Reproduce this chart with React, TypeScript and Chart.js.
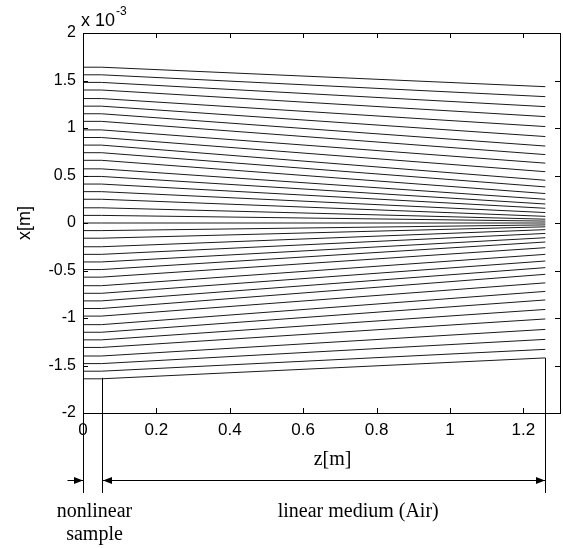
import React, { useEffect, useRef } from "react";
import { Chart, registerables } from "chart.js";

Chart.register(...registerables);

// z positions (m) of the ray vertices: entry face, exit face of the sample, end of the air path
const RAY_Z = [0, 0.05, 1.26];

// transverse ray positions, in units of 1e-3 m, at the sample (start) and at z = 1.26 m (end)
const RAY_START = [
  1.64, 1.56, 1.48, 1.4, 1.31, 1.23, 1.15, 1.07, 0.98, 0.9, 0.82, 0.74, 0.66, 0.57, 0.49, 0.41, 0.33, 0.25, 0.16,
  0.08, 0, -0.08, -0.16, -0.25, -0.33, -0.41, -0.49, -0.57, -0.66, -0.74, -0.82, -0.9, -0.98, -1.07, -1.15, -1.23,
  -1.31, -1.4, -1.48, -1.56, -1.64,
];
const RAY_END = [
  1.435, 1.33, 1.225, 1.12, 1.015, 0.91, 0.81, 0.72, 0.63, 0.54, 0.45, 0.38, 0.31, 0.25, 0.2, 0.155, 0.11, 0.07,
  0.04, 0.02, 0, -0.02, -0.04, -0.07, -0.11, -0.155, -0.2, -0.26, -0.33, -0.4, -0.47, -0.54, -0.63, -0.72, -0.81,
  -0.91, -1.01, -1.12, -1.225, -1.33, -1.42,
];

const X_MIN = 0;
const X_MAX = 1.3;
const X_STEP = 0.2;
const Y_MIN = -2e-3;
const Y_MAX = 2e-3;
const Y_STEP = 0.5e-3;

const SAMPLE_END_Z = 0.051;
const SAMPLE_TOP = -1.63e-3;
const AIR_END_Z = 1.26;
const AIR_END_TOP = -1.42e-3;

const SANS = "'Liberation Sans', Arial, sans-serif";
const SERIF = "'Liberation Serif', 'Times New Roman', serif";

const annotations = {
  id: "annotations",
  afterDraw(chart: any) {
    const { ctx, chartArea: a, scales } = chart;
    const xs = scales.x;
    const ys = scales.y;
    ctx.save();
    ctx.strokeStyle = "#000";
    ctx.fillStyle = "#000";
    ctx.lineWidth = 1;
    // box
    ctx.strokeRect(Math.round(a.left) + 0.5, Math.round(a.top) + 0.5, Math.round(a.right - a.left), Math.round(a.bottom - a.top));
    // inward ticks
    const tl = 5;
    ctx.beginPath();
    xs.ticks.forEach((t: any) => {
      const p = Math.round(xs.getPixelForValue(t.value)) + 0.5;
      ctx.moveTo(p, a.bottom);
      ctx.lineTo(p, a.bottom - tl);
      ctx.moveTo(p, a.top);
      ctx.lineTo(p, a.top + tl);
    });
    ys.ticks.forEach((t: any) => {
      const p = Math.round(ys.getPixelForValue(t.value)) + 0.5;
      ctx.moveTo(a.left, p);
      ctx.lineTo(a.left + tl, p);
      ctx.moveTo(a.right, p);
      ctx.lineTo(a.right - tl, p);
    });
    ctx.stroke();

    // exponent label
    ctx.textBaseline = "middle";
    ctx.textAlign = "left";
    ctx.font = `18px ${SANS}`;
    ctx.fillText("x 10", a.left - 2, a.top - 12);
    const w = ctx.measureText("x 10").width;
    ctx.font = `12px ${SANS}`;
    ctx.fillText("-3", a.left - 2 + w + 1, a.top - 21);

    // y title
    ctx.save();
    ctx.translate(25, ys.getPixelForValue(0));
    ctx.rotate(-Math.PI / 2);
    ctx.textAlign = "center";
    ctx.font = `18px ${SANS}`;
    ctx.fillText("x[m]", 0, 0);
    ctx.restore();

    // x title
    ctx.textAlign = "center";
    ctx.font = `20px ${SERIF}`;
    ctx.fillText("z[m]", xs.getPixelForValue(0.68), a.bottom + 47);

    // sample / air boundaries
    const x0 = Math.round(xs.getPixelForValue(0)) + 0.5;
    const x1 = Math.round(xs.getPixelForValue(SAMPLE_END_Z)) + 0.5;
    const x2 = Math.round(xs.getPixelForValue(AIR_END_Z)) + 0.5;
    const yb = a.bottom + 80;
    ctx.beginPath();
    ctx.moveTo(x0, a.bottom);
    ctx.lineTo(x0, yb);
    ctx.moveTo(x1, ys.getPixelForValue(SAMPLE_TOP));
    ctx.lineTo(x1, yb);
    ctx.moveTo(x2, ys.getPixelForValue(AIR_END_TOP));
    ctx.lineTo(x2, yb);
    ctx.stroke();

    // arrows
    const ya = Math.round(a.bottom + 67) + 0.5;
    ctx.beginPath();
    ctx.moveTo(x0 - 16, ya);
    ctx.lineTo(x0, ya);
    ctx.moveTo(x1, ya);
    ctx.lineTo(x2, ya);
    ctx.stroke();
    const head = (tip: number, dir: number) => {
      ctx.beginPath();
      ctx.moveTo(tip, ya);
      ctx.lineTo(tip - dir * 9, ya - 3.5);
      ctx.lineTo(tip - dir * 9, ya + 3.5);
      ctx.closePath();
      ctx.fill();
    };
    head(x0 - 0.5, 1);
    head(x1 + 0.5, -1);
    head(x2 - 0.5, 1);

    // labels
    ctx.font = `20px ${SERIF}`;
    ctx.textAlign = "center";
    ctx.fillText("nonlinear", x0 + 11, a.bottom + 99);
    ctx.fillText("sample", x0 + 11, a.bottom + 122);
    ctx.fillText("linear medium (Air)", xs.getPixelForValue(0.75), a.bottom + 99);
    ctx.restore();
  },
};

export default function App() {
  const ref = useRef<HTMLCanvasElement>(null);
  useEffect(() => {
    document.body.style.margin = "0";
    const datasets = RAY_START.map((s, i) => ({
      data: [
        { x: RAY_Z[0], y: s * 1e-3 },
        { x: RAY_Z[1], y: s * 1e-3 },
        { x: RAY_Z[2], y: RAY_END[i] * 1e-3 },
      ],
      borderColor: "#1a1a1a",
      borderWidth: 1,
      pointRadius: 0,
      fill: false,
    }));
    const chart = new Chart(ref.current!, {
      type: "line",
      data: { datasets },
      plugins: [annotations],
      options: {
        responsive: false,
        animation: false,
        devicePixelRatio: 1,
        layout: { padding: { top: 33, right: 3, left: 0, bottom: 0 } },
        plugins: { legend: { display: false }, tooltip: { enabled: false } },
        scales: {
          x: {
            type: "linear",
            min: X_MIN,
            max: X_MAX,
            grid: { display: false, drawTicks: false },
            border: { display: false },
            ticks: {
              stepSize: X_STEP,
              includeBounds: false,
              padding: 7,
              color: "#000",
              font: { family: SANS, size: 17 },
              maxRotation: 0,
              callback: (v: any) => String(Math.round(Number(v) * 10) / 10),
            },
            afterFit: (s: any) => {
              s.height = 135;
            },
          },
          y: {
            type: "linear",
            min: Y_MIN,
            max: Y_MAX,
            grid: { display: false, drawTicks: false },
            border: { display: false },
            ticks: {
              stepSize: Y_STEP,
              padding: 7,
              color: "#000",
              font: { family: SANS, size: 16 },
              callback: (v: any) => String(Math.round(Number(v) * 1e4) / 10),
            },
            afterFit: (s: any) => {
              s.width = 83;
            },
          },
        },
      } as any,
    });
    return () => chart.destroy();
  }, []);
  return (
    <div style={{ position: "absolute", left: 0, top: 0, width: 563, height: 548, background: "#fff" }}>
      <canvas ref={ref} width={563} height={548} />
    </div>
  );
}
